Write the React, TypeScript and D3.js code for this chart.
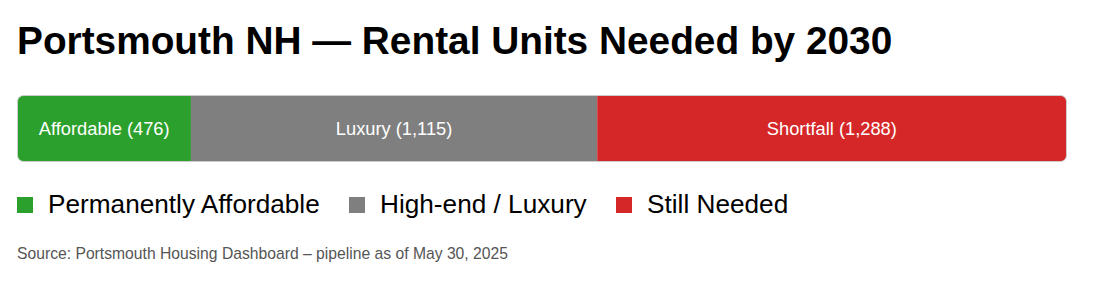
import React from "react";
import * as d3 from "d3";

const categories = ["Affordable", "Luxury", "Shortfall"];
const values = [476, 1115, 1288];
const legendLabels = ["Permanently Affordable", "High-end / Luxury", "Still Needed"];
const colors = ["#2ca02c", "#7f7f7f", "#d62728"];
const title = "Portsmouth NH \u2014 Rental Units Needed by 2030";
const source = "Source: Portsmouth Housing Dashboard \u2013 pipeline as of May 30, 2025";

const W = 1116;
const H = 302;
const FONT = "'Liberation Sans', Arial, Helvetica, sans-serif";

export default function App() {
  const barX0 = 17.5;
  const barX1 = 1066.5;
  const barY = 95.5;
  const barH = 66;
  const total = d3.sum(values);
  const x = d3.scaleLinear().domain([0, total]).range([barX0, barX1]);
  const stacks = values.map((v, i) => {
    const start = d3.sum(values.slice(0, i));
    return { cat: categories[i], v, x0: x(start), x1: x(start + v), color: colors[i] };
  });
  const fmt = d3.format(",");

  const legendWidths = [271, 206, 140];
  let lx = 17;
  const legendItems = legendLabels.map((l, i) => {
    const item = { l, x: lx, color: colors[i] };
    lx += 16 + 15 + legendWidths[i] + 30;
    return item;
  });

  return (
    <svg width={W} height={H} style={{ position: "absolute", left: 0, top: 0, background: "#fff" }} fontFamily={FONT}>
      <text x={17} y={54} fontSize={38.8} fontWeight="bold" fill="#000">{title}</text>
      <defs>
        <clipPath id="barclip">
          <rect x={barX0} y={barY} width={barX1 - barX0} height={barH} rx={6} ry={6} />
        </clipPath>
      </defs>
      <g clipPath="url(#barclip)">
        {stacks.map((s) => (
          <rect key={s.cat} x={s.x0} y={barY} width={s.x1 - s.x0} height={barH} fill={s.color} />
        ))}
      </g>
      <rect x={barX0} y={barY} width={barX1 - barX0} height={barH} rx={6} ry={6} fill="none" stroke="#cccccc" strokeWidth={1} />
      {stacks.map((s) => (
        <text key={s.cat + "l"} x={(s.x0 + s.x1) / 2} y={134.5} textAnchor="middle" fontSize={18.3} fill="#fff">
          {`${s.cat} (${fmt(s.v)})`}
        </text>
      ))}
      {legendItems.map((it) => (
        <g key={it.l}>
          <rect x={it.x} y={197} width={16} height={16} fill={it.color} />
          <text x={it.x + 31} y={212.5} fontSize={26.2} fill="#000">{it.l}</text>
        </g>
      ))}
      <text x={17} y={259} fontSize={15.7} fill="#555">{source}</text>
    </svg>
  );
}
